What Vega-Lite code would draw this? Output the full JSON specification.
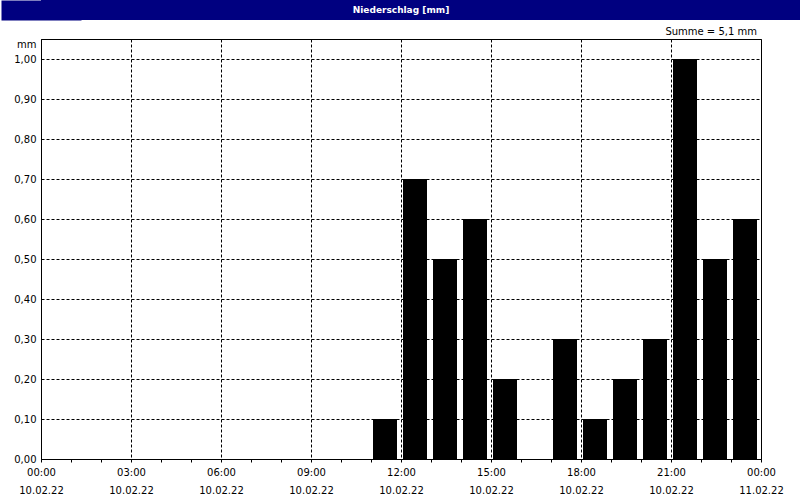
{
  "$schema": "https://vega.github.io/schema/vega-lite/v6.json",
  "padding": 0,
  "background": "white",
  "spacing": 6,
  "config": {
    "font": "DejaVu Sans"
  },
  "datasets": {
    "header": [{"label": "Niederschlag [mm]", "pos": 0.5}],
    "rain": [
      {"start": 0, "end": 1, "mm": 0},
      {"start": 1, "end": 2, "mm": 0},
      {"start": 2, "end": 3, "mm": 0},
      {"start": 3, "end": 4, "mm": 0},
      {"start": 4, "end": 5, "mm": 0},
      {"start": 5, "end": 6, "mm": 0},
      {"start": 6, "end": 7, "mm": 0},
      {"start": 7, "end": 8, "mm": 0},
      {"start": 8, "end": 9, "mm": 0},
      {"start": 9, "end": 10, "mm": 0},
      {"start": 10, "end": 11, "mm": 0},
      {"start": 11, "end": 12, "mm": 0.1},
      {"start": 12, "end": 13, "mm": 0.7},
      {"start": 13, "end": 14, "mm": 0.5},
      {"start": 14, "end": 15, "mm": 0.6},
      {"start": 15, "end": 16, "mm": 0.2},
      {"start": 16, "end": 17, "mm": 0},
      {"start": 17, "end": 18, "mm": 0.3},
      {"start": 18, "end": 19, "mm": 0.1},
      {"start": 19, "end": 20, "mm": 0.2},
      {"start": 20, "end": 21, "mm": 0.3},
      {"start": 21, "end": 22, "mm": 1.0},
      {"start": 22, "end": 23, "mm": 0.5},
      {"start": 23, "end": 24, "mm": 0.6}
    ]
  },
  "vconcat": [
    {
      "width": 760,
      "height": 20,
      "view": {"fill": "#000080", "stroke": null},
      "data": {"name": "header"},
      "mark": {"type": "text", "color": "white", "fontWeight": "bold", "fontSize": 9, "font": "DejaVu Sans", "baseline": "middle", "align": "center", "dx": -20},
      "encoding": {
        "text": {"field": "label"},
        "y": {
          "field": "pos",
          "type": "quantitative",
          "scale": {"domain": [0, 1]},
          "axis": {"title": null, "labels": false, "ticks": false, "grid": false, "domainColor": "#000080", "domainWidth": 80, "minExtent": 0, "maxExtent": 0}
        }
      }
    },
    {
      "width": 720,
      "height": 420,
      "view": {"stroke": "black", "strokeWidth": 1},
      "title": {"text": "Summe = 5,1 mm", "anchor": "end", "frame": "group", "fontSize": 10, "fontWeight": "normal", "color": "black", "offset": 2, "dx": -4, "font": "DejaVu Sans"},
      "data": {"name": "rain"},
      "mark": {"type": "bar", "color": "#000000", "xOffset": 2, "x2Offset": -4},
      "encoding": {
        "x": {
          "field": "start",
          "type": "quantitative",
          "scale": {"domain": [0, 24], "nice": false, "zero": false},
          "axis": {
            "title": null,
            "values": [0,1,2,3,4,5,6,7,8,9,10,11,12,13,14,15,16,17,18,19,20,21,22,23,24],
            "labelExpr": "datum.value % 3 == 0 ? [(datum.value % 24 < 10 ? '0' : '') + (datum.value % 24) + ':00', datum.value == 24 ? '11.02.22' : '10.02.22'] : ''",
            "labelFontSize": 10,
            "labelColor": "black",
            "labelFont": "DejaVu Sans",
            "labelLineHeight": 18,
            "labelPadding": 5,
            "labelFlush": false,
            "labelOverlap": false,
            "tickSize": 3,
            "tickColor": "black",
            "domainColor": "black",
            "grid": true,
            "gridColor": "black",
            "gridDash": [3, 2],
            "gridOpacity": {"condition": {"test": "datum.value % 3 == 0", "value": 1}, "value": 0}
          }
        },
        "x2": {"field": "end"},
        "y": {
          "field": "mm",
          "type": "quantitative",
          "scale": {"domain": [0, 1.05], "nice": false},
          "axis": {
            "values": [0, 0.1, 0.2, 0.3, 0.4, 0.5, 0.6, 0.7, 0.8, 0.9, 1.0],
            "labelExpr": "replace(format(datum.value, '.2f'), '.', ',')",
            "labelFontSize": 10,
            "labelColor": "black",
            "labelFont": "DejaVu Sans",
            "labelPadding": 5,
            "ticks": false,
            "domainColor": "black",
            "grid": true,
            "gridColor": "black",
            "gridDash": [3, 2],
            "minExtent": 40,
            "maxExtent": 40,
            "title": "mm",
            "titleAngle": 0,
            "titleFontSize": 10,
            "titleFontWeight": "normal",
            "titleColor": "black",
            "titleAlign": "right",
            "titleBaseline": "middle",
            "titleX": -5,
            "titleY": 5
          }
        },
        "y2": {"datum": 0}
      }
    }
  ]
}
